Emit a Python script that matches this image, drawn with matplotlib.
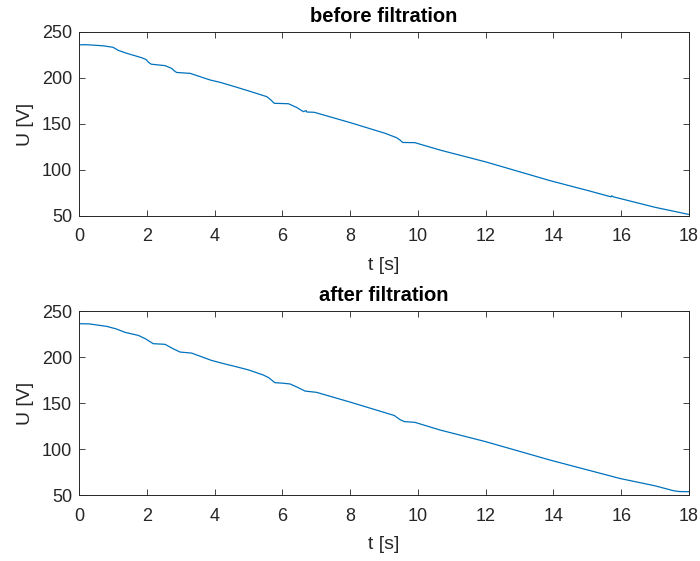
import matplotlib
matplotlib.use("Agg")
import matplotlib.pyplot as plt

# readings from the reference picture, time [s] and voltage [V]
t_before = [0.0, 0.2, 0.7, 1.0, 1.16, 1.41, 1.85, 1.98, 2.05, 2.13, 2.54, 2.73, 2.82, 2.88,
            3.28, 3.87, 4.16, 4.6, 5.0, 5.54, 5.64, 5.76, 6.18, 6.42, 6.55, 6.62, 6.7, 6.72,
            6.94, 8.0, 9.03, 9.37, 9.47, 9.55, 9.91, 10.65, 10.95, 12.0, 13.9, 15.0, 15.7,
            15.72, 15.77, 17.0, 17.98]
u_before = [236.0, 236.2, 235.0, 233.4, 230.0, 226.8, 222.0, 220.0, 217.0, 215.0, 213.4, 210.5,
            207.5, 206.0, 205.0, 197.8, 195.3, 190.5, 186.0, 179.7, 176.8, 172.5, 172.0, 168.0,
            165.0, 163.4, 164.5, 163.0, 162.7, 151.5, 139.9, 135.1, 132.6, 129.9, 129.7, 121.7,
            118.8, 108.8, 88.4, 77.8, 70.8, 72.0, 70.8, 59.4, 51.8]

t_after = [0.0, 0.3, 0.82, 1.1, 1.36, 1.75, 1.95, 2.19, 2.54, 2.75, 2.98, 3.32, 3.6, 3.91, 4.31,
           4.6, 5.0, 5.44, 5.6, 5.78, 6.0, 6.23, 6.45, 6.67, 7.01, 8.0, 9.03, 9.3, 9.47, 9.6,
           9.91, 10.65, 12.0, 13.9, 15.96, 17.0, 17.54, 17.7, 18.0]
u_after = [236.2, 236.0, 233.3, 230.5, 226.8, 223.5, 220.0, 214.5, 213.8, 209.5, 205.4, 204.3,
           200.5, 196.3, 192.4, 189.8, 186.0, 180.4, 177.5, 172.1, 171.6, 170.7, 167.0, 163.0,
           161.6, 151.0, 139.5, 136.5, 132.0, 129.8, 129.0, 120.7, 108.0, 88.0, 68.0, 60.0,
           54.7, 53.8, 53.6]

panels = [("before filtration", t_before, u_before),
          ("after filtration", t_after, u_after)]

xticks = [0, 2, 4, 6, 8, 10, 12, 14, 16, 18]
yticks = [50, 100, 150, 200, 250]

plt.rcParams['font.family'] = ['Liberation Sans', 'DejaVu Sans']
axis_col = '#262626'

fig = plt.figure(figsize=(7.0, 5.61), dpi=100)
boxes = [[0.1129, 0.615, 0.8714, 0.328], [0.1129, 0.1176, 0.8714, 0.328]]

for box, (title, t, u) in zip(boxes, panels):
    ax = fig.add_axes(box)
    ax.plot(t, u, color='#0072BD', lw=0.9)
    ax.set_xlim(0, 18)
    ax.set_ylim(50, 250)
    ax.set_xticks(xticks)
    ax.set_yticks(yticks)
    ax.tick_params(direction='in', top=True, right=True, length=4, width=0.6,
                   colors=axis_col, labelsize=13)
    ax.tick_params(axis='x', pad=9)
    ax.tick_params(axis='y', pad=5)
    for s in ax.spines.values():
        s.set_color(axis_col)
        s.set_linewidth(0.7)
    ax.set_title(title, fontsize=14.5, fontweight='bold', pad=7)
    ax.set_xlabel("t [s]", fontsize=14, color=axis_col, labelpad=8)
    ax.set_ylabel("U [V]", fontsize=14, color=axis_col, labelpad=6)

plt.savefig('out.png', dpi=100)
